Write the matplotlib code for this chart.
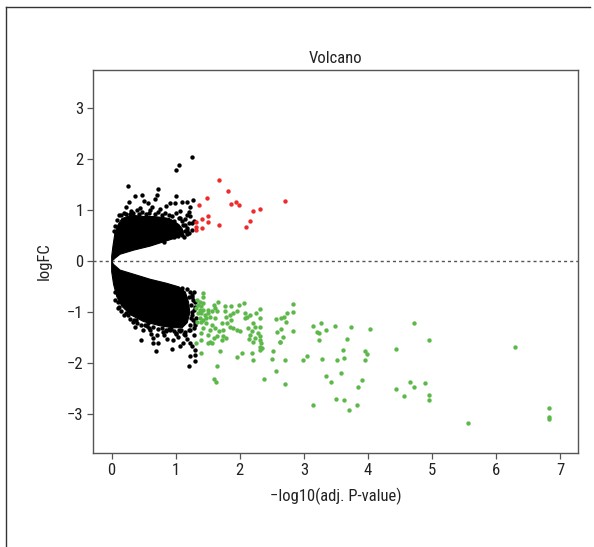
import matplotlib
matplotlib.use("Agg")
import matplotlib.pyplot as plt
from matplotlib import font_manager
from matplotlib.lines import Line2D

names = {f.name for f in font_manager.fontManager.ttflist}
fam = 'Liberation Sans'
for cand in ['Liberation Sans Narrow', 'Roboto Condensed', 'Open Sans Condensed',
             'Noto Sans Condensed', 'DejaVu Sans Condensed']:
    if cand in names:
        fam = cand
        break
plt.rcParams['font.family'] = [fam, 'DejaVu Sans']

# ---- data ----
# dense cores of non-significant genes (outline vertices)
core_up_x = [0.0, 0.0, 0.02, 0.05, 0.1, 0.16, 0.25, 0.35, 0.5, 0.65, 0.8, 0.9, 0.98, 1.05, 1.1, 1.12,
             1.05, 0.95, 0.8, 0.6, 0.34, 0.13, 0.05, 0.0]
core_up_y = [0.0, 0.1, 0.3, 0.55, 0.72, 0.84, 0.88, 0.9, 0.88, 0.88, 0.86, 0.84, 0.78, 0.72, 0.64, 0.55,
             0.48, 0.44, 0.38, 0.30, 0.22, 0.14, 0.06, 0.0]
core_dn_x = [0.0, 0.03, 0.13, 0.34, 0.6, 0.86, 1.05, 1.15, 1.2, 1.22, 1.18, 1.1, 0.95, 0.75, 0.5, 0.3,
             0.16, 0.08, 0.03, 0.0]
core_dn_y = [0.0, -0.06, -0.17, -0.25, -0.35, -0.43, -0.5, -0.6, -0.8, -1.0, -1.2, -1.3, -1.3,
             -1.26, -1.18, -1.05, -0.88, -0.69, -0.45, -0.2]

ns_x = [1.25, 1.05, 1.0, 0.25, 0.73, 0.48, 0.37, 0.70, 1.01, 0.27, 0.51, 0.67, 0.57, 0.23, 0.44, 0.63,
        0.85, 0.91, 0.99, 1.09, 1.18, 1.27, 1.22, 1.2, 1.07, 1.0, 0.94, 1.07, 1.22, 1.25, 1.12, 1.04,
        1.17, 1.17, 0.94, 0.81, 0.62,
        0.95, 1.02, 1.08, 1.15, 1.2, 1.25, 1.13, 0.98, 1.05, 1.18, 0.88, 1.28, 0.4, 0.3, 0.2, 0.12,
        0.6, 0.75, 1.14, 1.17, 1.2, 1.1, 1.15, 1.1, 1.03, 0.97,
        0.08, 0.15, 0.22, 0.28, 0.33, 0.42, 0.47, 0.53, 0.58, 0.68, 0.72, 0.78, 0.83, 0.9, 0.05, 0.03,
        0.12, 0.36, 0.45, 0.69, 0.73, 0.94, 1.07, 1.17, 1.21, 1.30, 1.30, 1.22, 0.65, 0.81, 0.49,
        0.91, 1.07, 0.57, 0.23, 1.04, 1.22, 0.86, 0.65, 0.62,
        1.28, 1.25, 1.3, 1.32, 1.3, 1.28, 1.15, 1.0, 0.8, 0.6, 0.4, 0.25, 0.1, 0.05, 0.7, 0.95,
        1.12, 1.25, 1.3, 1.22,
        1.25, 1.27, 1.24, 1.28, 1.25, 1.27, 1.23, 1.28, 1.2, 1.15, 1.05, 0.9, 1.3, 1.3, 1.22, 1.17,
        1.1, 1.26, 1.24, 1.2, 0.85, 0.55, 0.35, 1.0,
        0.05, 0.1, 0.15, 0.2, 0.28, 0.33, 0.38, 0.45, 0.52, 0.58, 0.65, 0.72, 0.78, 0.85, 0.92,
        0.98, 1.08, 1.13]
ns_y = [2.05, 1.89, 1.8, 1.48, 1.42, 1.31, 1.28, 1.30, 1.29, 1.17, 1.19, 1.23, 1.14, 1.07, 1.04, 1.07,
        1.09, 1.14, 1.15, 1.16, 1.17, 1.20, 1.07, 0.97, 0.98, 0.94, 0.88, 0.85, 0.88, 0.75, 0.71, 0.65,
        0.62, 0.53, 0.58, 0.39, 0.36,
        0.62, 0.7, 0.6, 0.72, 0.55, 0.62, 0.48, 0.8, 0.85, 0.9, 0.75, 0.8, 1.0, 0.98, 0.95, 0.9,
        1.0, 1.02, 0.6, 0.66, 0.75, 0.8, 0.84, 0.52, 0.5, 0.47,
        0.82, 0.9, 0.93, 0.92, 0.95, 0.93, 0.96, 0.92, 0.95, 0.93, 0.96, 0.91, 0.94, 0.9, 0.7, 0.6,
        -0.90, -1.28, -1.54, -1.75, -1.60, -1.71, -1.65, -1.52, -2.05, -1.73, -1.83, -1.34, -1.50,
        -1.44, -1.34, -1.34, -1.37, -1.21, -1.01, -1.48, -1.60, -1.52, -1.60, -1.42,
        -0.6, -0.7, -0.9, -1.1, -1.25, -1.45, -1.45, -1.42, -1.38, -1.35, -1.2, -1.05, -0.8, -0.6,
        -1.45, -1.55, -1.6, -1.65, -1.95, -1.85,
        -0.65, -0.75, -0.85, -0.95, -1.05, -1.15, -1.25, -1.3, -1.35, -1.38, -1.35, -1.33, -0.8,
        -1.2, -0.6, -0.55, -0.52, -1.0, -1.1, -0.7, -1.35, -1.27, -1.15, -1.4,
        -0.75, -0.92, -0.98, -1.05, -1.12, -1.18, -1.15, -1.25, -1.24, -1.3, -1.28, -1.33, -1.3,
        -1.36, -1.32, -1.37, -1.34, -1.42]

up_x = [1.68, 1.81, 1.49, 1.36, 1.87, 1.94, 1.98, 2.70, 2.32, 2.20, 2.16, 2.10, 1.67, 1.50, 1.51,
        1.41, 1.31, 1.41, 1.32, 1.32]
up_y = [1.59, 1.37, 1.24, 1.11, 1.13, 1.17, 1.11, 1.18, 1.02, 0.98, 0.79, 0.68, 0.72, 0.88, 0.77,
        0.83, 0.77, 0.66, 0.67, 0.62]

down_x = [1.42, 1.42, 1.33, 1.38, 1.42, 1.35, 1.40, 1.32, 1.38, 1.43, 1.34, 1.40, 1.46, 1.38, 1.43,
          1.33, 1.40, 1.47, 1.51, 1.59, 1.66, 1.61, 1.56, 1.51, 1.64, 1.53, 1.61, 1.48, 1.56, 1.43,
          1.53, 1.61, 1.40, 1.51, 1.68, 1.74, 1.79, 1.77, 1.87, 1.77, 1.85, 1.95, 2.06, 1.98, 1.90,
          1.87, 1.80, 1.72, 1.84, 1.90, 1.95, 2.00, 1.74, 1.72, 1.79, 1.59, 1.53, 1.40, 1.51, 1.56,
          1.64, 1.32, 2.08, 2.16, 2.11, 2.08, 2.26, 2.31, 2.32, 2.20, 2.13, 2.24, 2.19, 2.32, 2.29,
          2.16, 2.24, 2.31, 2.32, 2.33, 2.32, 2.32, 2.34, 2.21, 2.15, 2.52, 2.50, 2.57, 2.58, 2.62,
          2.19, 2.20, 1.95, 2.03, 1.69, 1.40, 1.65, 1.60, 1.63, 2.38, 2.57,
          2.83, 2.83, 2.73, 2.69, 2.65, 2.72, 2.65, 2.83, 2.67, 2.63, 2.70, 2.98, 3.05, 2.70, 3.14,
          3.27, 3.20, 3.24, 3.35, 3.49, 3.23, 3.67, 3.74, 4.04, 3.61, 3.51, 3.29, 3.62, 3.95, 3.99,
          3.95, 3.58, 3.34, 3.42, 3.91, 3.84, 3.50, 3.62, 3.14, 3.70, 3.83, 4.44, 4.72, 4.96, 4.66,
          4.72, 4.89, 4.44, 4.56, 4.95, 4.95,
          6.30, 5.56, 6.82, 6.82, 6.82]
down_y = [-0.62, -0.69, -0.75, -0.79, -0.82, -0.85, -0.88, -0.92, -0.95, -0.95, -1.01, -1.01, -1.05,
          -1.11, -1.15, -1.18, -1.18, -1.11, -0.95, -0.85, -0.79, -0.92, -0.98, -1.01, -0.98, -1.08,
          -1.11, -1.21, -1.24, -1.31, -1.34, -1.31, -1.41, -1.44, -1.37, -1.34, -1.08, -0.87, -0.88,
          -0.98, -1.05, -0.98, -0.82, -0.85, -1.01, -1.15, -1.21, -1.21, -1.28, -1.31, -1.34, -1.37,
          -1.47, -1.54, -1.50, -1.50, -1.57, -1.54, -1.60, -1.60, -1.47, -1.60, -1.01, -1.05, -1.08,
          -1.11, -1.01, -0.94, -1.11, -1.21, -1.31, -1.28, -1.37, -1.28, -1.41, -1.44, -1.50, -1.47,
          -1.54, -1.60, -1.67, -1.73, -1.70, -1.57, -1.52, -1.75, -1.92, -1.13, -1.39, -1.57, -1.79,
          -1.93, -1.88, -1.79, -1.75, -1.79, -2.05, -2.31, -2.37, -2.31, -2.14,
          -0.83, -1.00, -1.01, -1.08, -1.10, -1.19, -1.32, -1.36, -1.49, -1.57, -1.93, -1.94, -1.86,
          -2.41, -1.27, -1.21, -1.39, -1.41, -1.35, -1.26, -1.54, -1.52, -1.29, -1.33, -1.74, -1.94,
          -1.91, -1.90, -1.76, -1.82, -1.93, -2.18, -2.24, -2.37, -2.33, -2.47, -2.70, -2.71, -2.81,
          -2.92, -2.81, -1.71, -1.20, -1.55, -2.37, -2.46, -2.38, -2.51, -2.63, -2.62, -2.71,
          -1.67, -3.16, -2.87, -3.05, -3.08]

x_ticks = [0, 1, 2, 3, 4, 5, 6, 7]
y_ticks = [-3, -2, -1, 0, 1, 2, 3]

# ---- figure ----
W, H = 594, 547
fig = plt.figure(figsize=(W / 100, H / 100), dpi=100)
ax = fig.add_axes([93.3 / W, 1 - 453 / H, (578 - 93.3) / W, (453 - 69.7) / H])

ax.fill(core_up_x, core_up_y, color='black', lw=0.8, ec='black', zorder=2)
ax.fill(core_dn_x, core_dn_y, color='black', lw=0.8, ec='black', zorder=2)
ms = 10
ax.scatter(ns_x, ns_y, s=ms, c='black', lw=0, zorder=3)
ax.scatter(up_x, up_y, s=ms, c='#EE2A2A', lw=0, zorder=3)
ax.scatter(down_x, down_y, s=ms, c='#5DB84A', lw=0, zorder=3)

ax.axhline(0, color='#555555', lw=1.0, ls=(0, (2.2, 2.2)), zorder=1)

ax.set_xlim(-0.287, 7.28)
ax.set_ylim(-3.755, 3.757)
ax.set_xticks(x_ticks)
ax.set_yticks(y_ticks)
ax.tick_params(direction='out', length=4, width=0.9, color='#555555', labelsize=12,
               labelcolor='#222222', pad=3)
for sp in ax.spines.values():
    sp.set_color('#555555')
    sp.set_linewidth(1.0)

ax.set_title('Volcano', fontsize=12, color='#222222', pad=5)
ax.set_xlabel('\u2212log10(adj. P-value)', fontsize=12, color='#222222', labelpad=7)
ax.set_ylabel('logFC', fontsize=12, color='#222222', labelpad=11)

# outer frame lines
fig.add_artist(Line2D([6 / W, 6 / W], [0, 1 - 7 / H], transform=fig.transFigure,
                      color='#333333', lw=1.0))
fig.add_artist(Line2D([6 / W, 590 / W], [1 - 7 / H, 1 - 7 / H], transform=fig.transFigure,
                      color='#333333', lw=1.0))

fig.savefig('out.png', dpi=100)
